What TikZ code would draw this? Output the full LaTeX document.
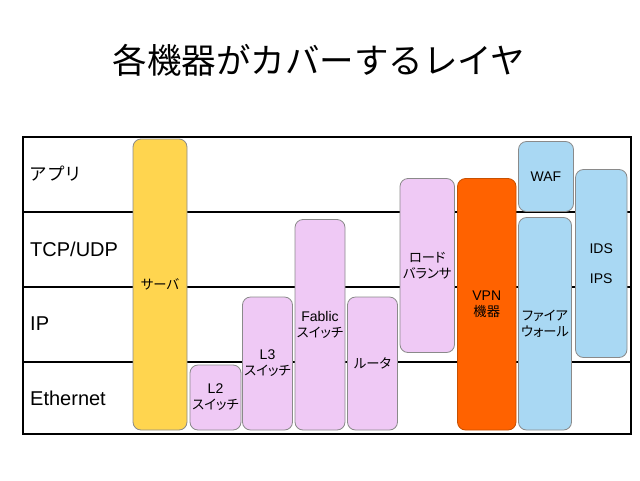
\documentclass[tikz,border=0pt]{standalone}
\usepackage{fontspec}
\setmainfont{Liberation Sans}
\newfontfamily\jp{Noto Sans CJK JP}
\newfontfamily\jpp[RawFeature=+palt]{Noto Sans CJK JP}
\newcommand\jb{\jpp\fontsize{13.3}{16}\selectfont}
\definecolor{srvfill}{HTML}{FFD54F}
\definecolor{pinkfill}{HTML}{EFC9F5}
\definecolor{bluefill}{HTML}{A9D8F3}
\definecolor{vpnfill}{HTML}{FF6200}
\definecolor{vpnline}{HTML}{C85000}
\definecolor{boxline}{HTML}{8A8A8A}
\tikzset{
  dev/.style={draw=boxline, line width=0.8pt, rounded corners=8pt, inner sep=0pt,
    align=center, font=\fontsize{14}{16}\selectfont},
  srv/.style={dev, fill=srvfill},
  pnk/.style={dev, fill=pinkfill},
  blu/.style={dev, fill=bluefill},
  vpn/.style={dev, fill=vpnfill, draw=vpnline},
  layer/.style={anchor=west, inner sep=0pt, font=\fontsize{20}{22}\selectfont},
  rule/.style={line width=2pt, black}
}
\begin{document}
\begin{tikzpicture}[x=1pt,y=-1pt]
\useasboundingbox (0,0) rectangle (640,480);
\node (title) at (319,60) {\jp\fontsize{34.5}{40}\selectfont 各機器がカバーするレイヤ};
\draw[rule] (22.5,136.5) rectangle (631,434);
\coordinate (l1a) at (22.5,212); \coordinate (l1b) at (631,212);
\coordinate (l2a) at (22.5,286.5); \coordinate (l2b) at (631,286.5);
\coordinate (l3a) at (22.5,361.5); \coordinate (l3b) at (631,361.5);
\draw[rule] (l1a) -- (l1b);
\draw[rule] (l2a) -- (l2b);
\draw[rule] (l3a) -- (l3b);
\node[layer] (app) at (29.5,174) {\jp\fontsize{17.5}{20}\selectfont アプリ};
\node[layer] (tcp) at (30,249) {TCP/UDP};
\node[layer] (ip) at (30,324) {IP};
\node[layer] (eth) at (30,398) {Ethernet};
\node[srv, minimum width=54pt, minimum height=291pt] (server) at (160,284.5) {\jb サーバ};
\node[pnk, minimum width=51pt, minimum height=65pt] (l2) at (215.5,397.5) {L2\\{\jb スイッチ}};
\node[pnk, minimum width=50pt, minimum height=133pt] (l3) at (267.5,363.5) {L3\\{\jb スイッチ}};
\node[pnk, minimum width=50pt, minimum height=210.5pt] (fab) at (320,324.75) {Fablic\\{\jb スイッチ}};
\node[pnk, minimum width=50pt, minimum height=133pt] (rt) at (372.5,363.5) {\jb ルータ};
\node[pnk, minimum width=54.5pt, minimum height=174pt] (lb) at (427.25,265.5) {\jb ロード\\\jb バランサ};
\node[vpn, minimum width=58.5pt, minimum height=251.5pt] (vpnbox) at (486.75,304.25) {VPN\\{\jb 機器}};
\node[blu, minimum width=55pt, minimum height=70pt] (waf) at (546,176.5) {WAF};
\node[blu, minimum width=53pt, minimum height=212.5pt] (fw) at (545,323.75) {\jb ファイア\\\jb ウォール};
\node[blu, minimum width=51.5pt, minimum height=188pt] (ids) at (601.25,263.5) {IDS\\[14pt]IPS};
\end{tikzpicture}
\end{document}
